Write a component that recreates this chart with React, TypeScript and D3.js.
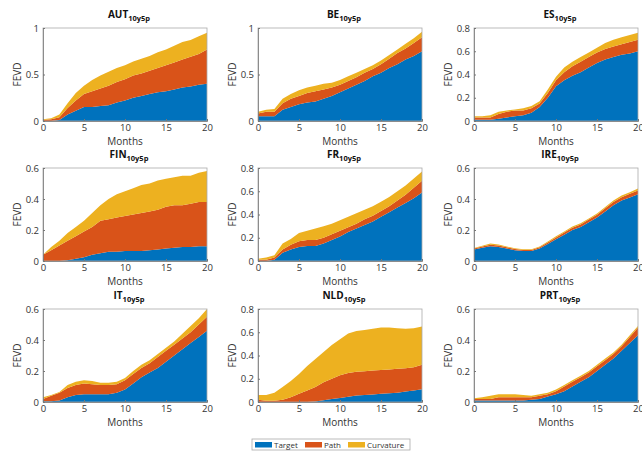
import React, { useEffect, useRef } from 'react';
import * as d3 from 'd3';

// horizon in months
const months = d3.range(0, 21);

const seriesNames = ['Target', 'Path', 'Curvature'];
const colors = ['#0072BD', '#D95319', '#EDB120'];

// FEVD shares, one array per component
const autTarget = [0, 0, 0.01, 0.07, 0.11, 0.15, 0.15, 0.16, 0.17, 0.2, 0.22, 0.25, 0.27, 0.29, 0.31, 0.32, 0.34, 0.36, 0.37, 0.39, 0.4];
const autPath = [0.01, 0.02, 0.03, 0.07, 0.11, 0.14, 0.17, 0.19, 0.21, 0.22, 0.23, 0.24, 0.24, 0.25, 0.26, 0.28, 0.29, 0.3, 0.32, 0.33, 0.37];
const autCurv = [0.01, 0.01, 0.03, 0.05, 0.08, 0.09, 0.12, 0.14, 0.15, 0.15, 0.15, 0.15, 0.16, 0.16, 0.17, 0.17, 0.18, 0.19, 0.18, 0.19, 0.18];

const beTarget = [0.05, 0.05, 0.05, 0.12, 0.15, 0.18, 0.2, 0.21, 0.24, 0.27, 0.31, 0.35, 0.39, 0.43, 0.48, 0.52, 0.57, 0.61, 0.66, 0.7, 0.75];
const bePath = [0.03, 0.05, 0.05, 0.07, 0.09, 0.09, 0.1, 0.11, 0.1, 0.09, 0.08, 0.08, 0.08, 0.09, 0.08, 0.09, 0.1, 0.12, 0.12, 0.14, 0.15];
const beCurv = [0.02, 0.02, 0.03, 0.05, 0.05, 0.06, 0.06, 0.06, 0.06, 0.05, 0.05, 0.05, 0.05, 0.04, 0.04, 0.04, 0.04, 0.04, 0.05, 0.05, 0.06];

const esTarget = [0.01, 0.01, 0.01, 0.02, 0.03, 0.04, 0.05, 0.07, 0.12, 0.2, 0.3, 0.35, 0.39, 0.42, 0.46, 0.5, 0.53, 0.55, 0.57, 0.58, 0.6];
const esPath = [0.02, 0.02, 0.02, 0.04, 0.05, 0.05, 0.04, 0.04, 0.03, 0.04, 0.05, 0.07, 0.08, 0.09, 0.09, 0.09, 0.09, 0.09, 0.09, 0.1, 0.1];
const esCurv = [0.01, 0.01, 0.02, 0.02, 0.01, 0.01, 0.02, 0.02, 0.02, 0.03, 0.03, 0.04, 0.04, 0.04, 0.04, 0.04, 0.05, 0.06, 0.06, 0.06, 0.06];

const finTarget = [0, 0, 0, 0.005, 0.015, 0.025, 0.04, 0.05, 0.06, 0.06, 0.065, 0.065, 0.065, 0.07, 0.075, 0.08, 0.085, 0.09, 0.09, 0.095, 0.095];
const finPath = [0.04, 0.07, 0.1, 0.125, 0.145, 0.165, 0.18, 0.21, 0.21, 0.22, 0.225, 0.235, 0.245, 0.25, 0.255, 0.27, 0.275, 0.27, 0.28, 0.285, 0.285];
const finCurv = [0, 0.02, 0.03, 0.05, 0.06, 0.07, 0.09, 0.1, 0.13, 0.15, 0.16, 0.17, 0.18, 0.18, 0.19, 0.18, 0.18, 0.19, 0.18, 0.19, 0.2];

const frTarget = [0, 0, 0.01, 0.07, 0.1, 0.12, 0.13, 0.13, 0.15, 0.18, 0.21, 0.25, 0.28, 0.31, 0.34, 0.38, 0.42, 0.46, 0.5, 0.54, 0.59];
const frPath = [0.01, 0.01, 0.02, 0.03, 0.04, 0.05, 0.05, 0.05, 0.05, 0.05, 0.05, 0.04, 0.04, 0.05, 0.05, 0.05, 0.05, 0.06, 0.07, 0.09, 0.1];
const frCurv = [0.01, 0.02, 0.02, 0.05, 0.05, 0.07, 0.08, 0.1, 0.1, 0.09, 0.09, 0.09, 0.09, 0.08, 0.08, 0.08, 0.08, 0.08, 0.08, 0.08, 0.08];

const ireTarget = [0.075, 0.085, 0.095, 0.09, 0.08, 0.07, 0.065, 0.065, 0.08, 0.11, 0.14, 0.17, 0.2, 0.22, 0.25, 0.28, 0.32, 0.36, 0.39, 0.41, 0.43];
const irePath = [0.005, 0.008, 0.01, 0.01, 0.008, 0.007, 0.006, 0.006, 0.008, 0.01, 0.012, 0.014, 0.015, 0.016, 0.017, 0.018, 0.02, 0.02, 0.022, 0.024, 0.025];
const ireCurv = [0.004, 0.006, 0.008, 0.007, 0.006, 0.005, 0.005, 0.005, 0.005, 0.006, 0.007, 0.007, 0.008, 0.008, 0.008, 0.009, 0.009, 0.01, 0.01, 0.01, 0.012];

const itTarget = [0.005, 0.005, 0.01, 0.03, 0.045, 0.05, 0.05, 0.05, 0.05, 0.06, 0.08, 0.12, 0.16, 0.19, 0.22, 0.26, 0.3, 0.34, 0.38, 0.42, 0.46];
const itPath = [0.015, 0.035, 0.05, 0.06, 0.065, 0.07, 0.065, 0.06, 0.06, 0.055, 0.06, 0.06, 0.06, 0.06, 0.07, 0.07, 0.07, 0.07, 0.07, 0.08, 0.09];
const itCurv = [0.01, 0.005, 0.005, 0.02, 0.02, 0.02, 0.02, 0.015, 0.015, 0.015, 0.015, 0.02, 0.02, 0.02, 0.02, 0.02, 0.02, 0.03, 0.04, 0.04, 0.05];

const nldTarget = [0, 0, 0, 0, 0, 0, 0, 0.005, 0.015, 0.025, 0.035, 0.045, 0.055, 0.06, 0.065, 0.07, 0.075, 0.08, 0.09, 0.1, 0.11];
const nldPath = [0.02, 0.01, 0.01, 0.02, 0.04, 0.07, 0.1, 0.125, 0.155, 0.175, 0.195, 0.205, 0.205, 0.205, 0.205, 0.205, 0.205, 0.205, 0.2, 0.2, 0.21];
const nldCurv = [0.04, 0.05, 0.07, 0.11, 0.14, 0.17, 0.21, 0.24, 0.26, 0.29, 0.31, 0.34, 0.35, 0.355, 0.36, 0.365, 0.36, 0.35, 0.34, 0.335, 0.33];

const prtTarget = [0.01, 0.01, 0.01, 0.01, 0.01, 0.01, 0.01, 0.015, 0.02, 0.035, 0.05, 0.07, 0.1, 0.13, 0.16, 0.2, 0.24, 0.28, 0.33, 0.38, 0.43];
const prtPath = [0.01, 0.01, 0.01, 0.02, 0.02, 0.02, 0.02, 0.015, 0.02, 0.015, 0.02, 0.03, 0.03, 0.03, 0.03, 0.03, 0.03, 0.03, 0.03, 0.04, 0.05];
const prtCurv = [0.005, 0.01, 0.02, 0.02, 0.02, 0.02, 0.015, 0.01, 0.01, 0.01, 0.01, 0.01, 0.01, 0.01, 0.01, 0.01, 0.01, 0.01, 0.01, 0.01, 0.01];

const xTicks = [0, 5, 10, 15, 20];

const panels = [
  { name: 'AUT', yMax: 1, yTicks: [0, 0.5, 1], series: [autTarget, autPath, autCurv] },
  { name: 'BE', yMax: 1, yTicks: [0, 0.5, 1], series: [beTarget, bePath, beCurv] },
  { name: 'ES', yMax: 0.8, yTicks: [0, 0.2, 0.4, 0.6, 0.8], series: [esTarget, esPath, esCurv] },
  { name: 'FIN', yMax: 0.6, yTicks: [0, 0.2, 0.4, 0.6], series: [finTarget, finPath, finCurv] },
  { name: 'FR', yMax: 0.8, yTicks: [0, 0.2, 0.4, 0.6, 0.8], series: [frTarget, frPath, frCurv] },
  { name: 'IRE', yMax: 0.6, yTicks: [0, 0.2, 0.4, 0.6], series: [ireTarget, irePath, ireCurv] },
  { name: 'IT', yMax: 0.6, yTicks: [0, 0.2, 0.4, 0.6], series: [itTarget, itPath, itCurv] },
  { name: 'NLD', yMax: 0.8, yTicks: [0, 0.2, 0.4, 0.6, 0.8], series: [nldTarget, nldPath, nldCurv] },
  { name: 'PRT', yMax: 0.6, yTicks: [0, 0.2, 0.4, 0.6], series: [prtTarget, prtPath, prtCurv] },
];

const App = () => {
  const svgRef = useRef<SVGSVGElement>(null);

  useEffect(() => {
    const W = 642;
    const H = 451;
    const colX = [43, 258, 474];
    const rowY = [28, 168, 309];
    const pw = 164;
    const ph = 93;
    const font = '"Open Sans", "DejaVu Sans", sans-serif';
    const textColor = '#333';

    const root = d3.select(svgRef.current);
    root.selectAll('*').remove();
    root.attr('width', W).attr('height', H);
    root.append('rect').attr('width', W).attr('height', H).attr('fill', '#fff');

    panels.forEach((p, i) => {
      const g = root.append('g')
        .attr('transform', `translate(${colX[i % 3]},${rowY[Math.floor(i / 3)]})`);

      const x = d3.scaleLinear().domain([0, 20]).range([0, pw]);
      const y = d3.scaleLinear().domain([0, p.yMax]).range([ph, 0]);

      const rows = months.map((m, k) => ({
        m,
        Target: p.series[0][k],
        Path: p.series[1][k],
        Curvature: p.series[2][k],
      }));
      const stacked = d3.stack<any>().keys(seriesNames)(rows);

      const area = d3.area<any>()
        .x(d => x(d.data.m))
        .y0(d => y(d[0]))
        .y1(d => y(Math.min(d[1], p.yMax)));

      g.selectAll('.layer')
        .data(stacked)
        .enter().append('path')
        .attr('class', 'layer')
        .attr('d', area)
        .attr('fill', (_d, k) => colors[k]);

      // box
      g.append('rect')
        .attr('width', pw).attr('height', ph)
        .attr('fill', 'none')
        .attr('stroke', '#aaa')
        .attr('stroke-width', 0.8);

      // x axis
      const xAxis = g.append('g')
        .attr('transform', `translate(0,${ph})`)
        .call(d3.axisBottom(x).tickValues(xTicks).tickSize(-2).tickPadding(3.5).tickFormat(d3.format('d')));
      xAxis.select('.domain').attr('stroke', '#777').attr('stroke-width', 0.8);
      xAxis.selectAll('line').attr('stroke', '#777');
      xAxis.selectAll('text')
        .attr('font-family', font).attr('font-size', 9.5).attr('fill', textColor);

      // y axis
      const yAxis = g.append('g')
        .call(d3.axisLeft(y).tickValues(p.yTicks).tickSize(-2).tickPadding(4).tickFormat(d3.format('~g')));
      yAxis.select('.domain').attr('stroke', '#777').attr('stroke-width', 0.8);
      yAxis.selectAll('line').attr('stroke', '#777');
      yAxis.selectAll('text')
        .attr('font-family', font).attr('font-size', 9.5).attr('fill', textColor);

      // labels
      g.append('text')
        .attr('x', pw / 2)
        .attr('y', ph + 23.5)
        .attr('text-anchor', 'middle')
        .attr('font-family', font).attr('font-size', 10).attr('fill', textColor)
        .text('Months');

      g.append('text')
        .attr('transform', `translate(-22,${ph / 2}) rotate(-90)`)
        .attr('text-anchor', 'middle')
        .attr('font-family', font).attr('font-size', 10).attr('fill', textColor)
        .text('FEVD');

      const title = g.append('text')
        .attr('x', pw / 2 + 4)
        .attr('y', -10)
        .attr('text-anchor', 'middle')
        .attr('font-family', font).attr('font-weight', 'bold').attr('fill', '#111');
      title.append('tspan').attr('font-size', 10).text(p.name);
      title.append('tspan').attr('font-size', 7.5).attr('dy', 3).text('10y5p');
    });

    // legend
    const lg = root.append('g').attr('transform', 'translate(252,439)');
    lg.append('rect')
      .attr('width', 158).attr('height', 11)
      .attr('fill', '#fff').attr('stroke', '#aaa').attr('stroke-width', 0.8);
    const items = [
      { x: 3, label: seriesNames[0] },
      { x: 53, label: seriesNames[1] },
      { x: 96, label: seriesNames[2] },
    ];
    items.forEach((it, k) => {
      lg.append('rect')
        .attr('x', it.x).attr('y', 3).attr('width', 17).attr('height', 5.5)
        .attr('fill', colors[k]);
      lg.append('text')
        .attr('x', it.x + 19).attr('y', 8.7)
        .attr('font-family', font).attr('font-size', 8).attr('fill', textColor)
        .text(it.label);
    });
  }, []);

  return <svg ref={svgRef} style={{ position: 'absolute', left: 0, top: 0 }}></svg>;
};

export default App;
